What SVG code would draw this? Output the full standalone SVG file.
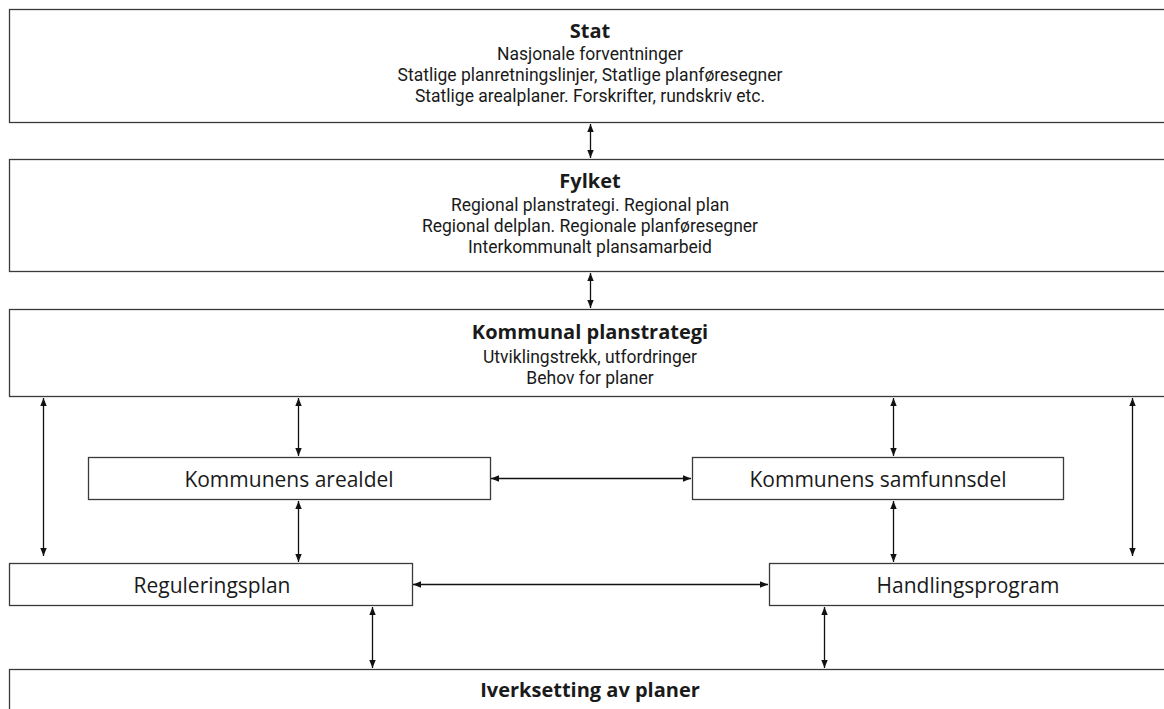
<svg xmlns="http://www.w3.org/2000/svg" width="1164" height="709" viewBox="0 0 1164 709">
<style>
.box{fill:#fff;stroke:#3a3a3a;stroke-width:1.3}
.t{font-family:"Open Sans","Liberation Sans",sans-serif;fill:#1a1a1a;text-anchor:middle}
.h{font-size:20px;font-weight:bold}
.s{font-family:Roboto,"Open Sans",sans-serif;font-size:17.5px}
.n{font-size:21px}
.d{stroke:#111;stroke-width:1.3;fill:none;marker-start:url(#ahs);marker-end:url(#ah)}
</style>
<defs>
<marker id="ah" viewBox="0 0 10 10" refX="10" refY="5" markerWidth="8" markerHeight="8" markerUnits="userSpaceOnUse" orient="auto"><path d="M0,1 L10,5 L0,9 Z" fill="#111"/></marker>
<marker id="ahs" viewBox="0 0 10 10" refX="0" refY="5" markerWidth="8" markerHeight="8" markerUnits="userSpaceOnUse" orient="auto"><path d="M10,1 L0,5 L10,9 Z" fill="#111"/></marker>
</defs>
<rect width="1164" height="709" fill="#fff"/>
<g id="stat">
<rect class="box" x="9.5" y="9.5" width="1162" height="113"/>
<text class="t h" x="590" y="38">Stat</text>
<text class="t s" x="590" y="60">Nasjonale forventninger</text>
<text class="t s" x="590" y="81">Statlige planretningslinjer, Statlige planføresegner</text>
<text class="t s" x="590" y="102">Statlige arealplaner. Forskrifter, rundskriv etc.</text>
</g>
<g id="fylket">
<rect class="box" x="9.5" y="159.5" width="1162" height="112"/>
<text class="t h" x="590" y="188">Fylket</text>
<text class="t s" x="590" y="211">Regional planstrategi. Regional plan</text>
<text class="t s" x="590" y="232">Regional delplan. Regionale planføresegner</text>
<text class="t s" x="590" y="253">Interkommunalt plansamarbeid</text>
</g>
<g id="kommunal">
<rect class="box" x="9.5" y="309.5" width="1162" height="87"/>
<text class="t h" x="590" y="339">Kommunal planstrategi</text>
<text class="t s" x="590" y="363">Utviklingstrekk, utfordringer</text>
<text class="t s" x="590" y="384">Behov for planer</text>
</g>
<g id="arealdel">
<rect class="box" x="88.5" y="457.5" width="402" height="42"/>
<text class="t n" x="289" y="487">Kommunens arealdel</text>
</g>
<g id="samfunnsdel">
<rect class="box" x="692.5" y="457.5" width="371" height="42"/>
<text class="t n" x="878" y="487">Kommunens samfunnsdel</text>
</g>
<g id="regulering">
<rect class="box" x="9.5" y="563.5" width="403" height="42"/>
<text class="t n" x="212" y="593">Reguleringsplan</text>
</g>
<g id="handling">
<rect class="box" x="769.5" y="563.5" width="402" height="42"/>
<text class="t n" x="968" y="593">Handlingsprogram</text>
</g>
<g id="iverksetting">
<rect class="box" x="9.5" y="669.5" width="1162" height="60"/>
<text class="t h" x="590" y="697">Iverksetting av planer</text>
</g>
<g id="connectors">
<line class="d" x1="590.5" y1="124" x2="590.5" y2="158"/>
<line class="d" x1="590.5" y1="273" x2="590.5" y2="308"/>
<line class="d" x1="43.5" y1="398" x2="43.5" y2="556"/>
<line class="d" x1="1132.5" y1="398" x2="1132.5" y2="556"/>
<line class="d" x1="298.5" y1="398" x2="298.5" y2="456"/>
<line class="d" x1="893.5" y1="398" x2="893.5" y2="456"/>
<line class="d" x1="298.5" y1="501" x2="298.5" y2="562"/>
<line class="d" x1="893.5" y1="501" x2="893.5" y2="562"/>
<line class="d" x1="491" y1="478.5" x2="691" y2="478.5"/>
<line class="d" x1="413" y1="584.5" x2="768" y2="584.5"/>
<line class="d" x1="372.5" y1="607" x2="372.5" y2="668"/>
<line class="d" x1="824.5" y1="607" x2="824.5" y2="668"/>
</g>
</svg>
